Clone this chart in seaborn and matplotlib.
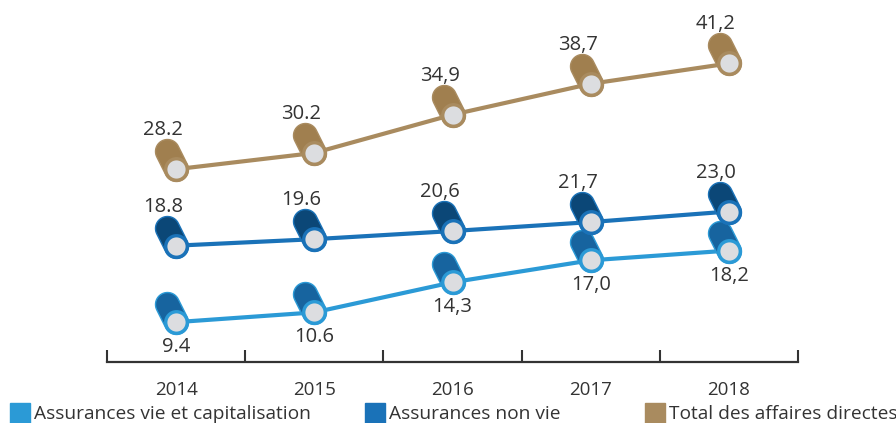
import numpy as np
import matplotlib.pyplot as plt
import seaborn as sns
from matplotlib.path import Path
from matplotlib.patches import Patch

# Data
years = ['2014', '2015', '2016', '2017', '2018']
vie = [9.4, 10.6, 14.3, 17.0, 18.2]
non_vie = [18.8, 19.6, 20.6, 21.7, 23.0]
total = [28.2, 30.2, 34.9, 38.7, 41.2]
vie_labels = ['9.4', '10.6', '14,3', '17,0', '18,2']
non_vie_labels = ['18.8', '19.6', '20,6', '21,7', '23,0']
total_labels = ['28.2', '30.2', '34,9', '38,7', '41,2']
legend_names = ['Assurances vie et capitalisation', 'Assurances non vie', 'Total des affaires directes']

sns.set_style('white')
plt.rcParams['font.family'] = ['Open Sans', 'DejaVu Sans']

# cylinder body marker (stadium shape going up-left from the front face)
R = 12.0
d = np.array([-9.0, 18.0])
a = np.arctan2(d[1], d[0])
t_front = np.linspace(a + np.pi / 2, a + 3 * np.pi / 2, 30)
t_back = np.linspace(a - np.pi / 2, a + np.pi / 2, 30)
front = np.column_stack([R * np.cos(t_front), R * np.sin(t_front)])
back = np.column_stack([d[0] + R * np.cos(t_back), d[1] + R * np.sin(t_back)])
verts = np.vstack([front, back, front[:1]])
body = Path(verts, closed=True)
body_size = 2 * np.max(np.abs(verts)) * 0.72  # px -> pt

fig, ax = plt.subplots(figsize=(8.96, 4.23), dpi=100)
fig.subplots_adjust(left=107 / 896, right=798 / 896, bottom=61 / 423, top=1.0)

x = np.arange(len(years))
series = [
    (vie, vie_labels, '#2b9ad6', '#17649f', (0, -25)),
    (non_vie, non_vie_labels, '#1a72b8', '#0b4777', (-13, 39)),
    (total, total_labels, '#a98b5f', '#a07f4f', (-13, 39)),
]

for vals, labels, lc, bc, off in series:
    sns.lineplot(x=x, y=vals, ax=ax, color=lc, lw=3, zorder=1)
    ax.plot(x, vals, ls='none', marker=body, markersize=body_size,
            markerfacecolor=bc, markeredgecolor=lc, markeredgewidth=1, zorder=2)
    ax.plot(x, vals, ls='none', marker='o', markersize=15.5,
            markerfacecolor='#dcdde0', markeredgecolor=lc, markeredgewidth=2.4, zorder=3)
    for xi, v, lab in zip(x, vals, labels):
        ax.annotate(lab, (xi, v), xytext=(off[0] * 0.72, off[1] * 0.72),
                    textcoords='offset points', ha='center', va='center',
                    fontsize=14.5, color='#333333')

ax.set_xlim(-0.5, 4.5)
ax.set_ylim(4.5, 49)
ax.set_xticks(x)
ax.set_xticklabels(years, fontsize=13.5, color='#333333')
ax.set_xticks(np.arange(-0.5, 5, 1), minor=True)
ax.tick_params(axis='x', which='both', bottom=True)
ax.tick_params(axis='x', which='major', length=0, pad=14)
ax.tick_params(axis='x', which='minor', length=9, width=1.5, direction='in', color='#333333')
ax.set_yticks([])
for s in ['top', 'left', 'right']:
    ax.spines[s].set_visible(False)
ax.spines['bottom'].set_color('#333333')
ax.spines['bottom'].set_linewidth(1.6)
ax.set_xlabel('')
ax.set_ylabel('')

# legend, three separate entries
leg_x = [10 / 896, 365 / 896, 645 / 896]
leg_colors = ['#2b9ad6', '#1a72b8', '#a98b5f']
for name, c, lx in zip(legend_names, leg_colors, leg_x):
    fig.legend(handles=[Patch(color=c, label=name)], loc='center left',
               bbox_to_anchor=(lx, 10 / 423), frameon=False, fontsize=13.8,
               handlelength=1.05, handleheight=1.3, handletextpad=0.2,
               borderpad=0, borderaxespad=0, labelcolor='#333333')

plt.savefig('out.png', dpi=100)
